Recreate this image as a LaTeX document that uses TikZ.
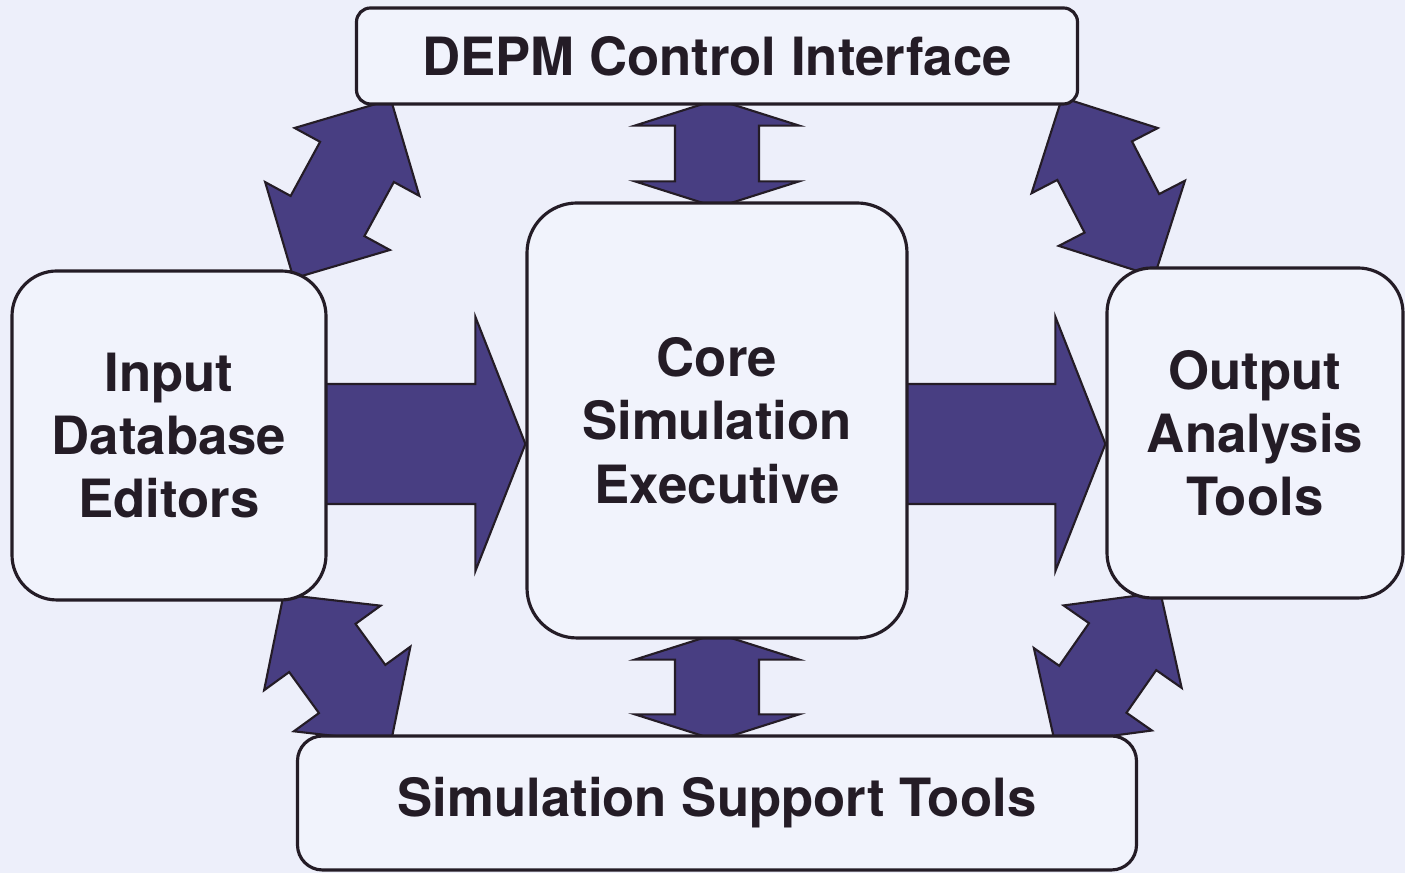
\documentclass[tikz,border=0pt]{standalone}
\usepackage{fontspec}
\setmainfont{TeX Gyre Heros}
\usetikzlibrary{calc}
\definecolor{bgblue}{RGB}{237,239,250}
\definecolor{boxfill}{RGB}{241,243,252}
\definecolor{arrblue}{RGB}{72,62,130}
\definecolor{inkdark}{RGB}{36,28,38}
\pgfdeclarelayer{back}
\pgfsetlayers{back,main}
\tikzstyle{stylebox} = [rectangle, rounded corners=0.45cm, inner sep=0pt, text centered, draw=inkdark, line width=0.9pt, fill=boxfill, text=inkdark, font=\fontsize{15}{18}\selectfont\bfseries]
\tikzstyle{stylebar} = [stylebox, rounded corners=0.14cm]
\tikzstyle{stylearrow} = [draw=inkdark, line width=0.6pt, fill=arrblue]

% block arrow with two heads: ends, half shaft, half head, head length
\newcommand{\dblarrow}[5]{%
\draw[stylearrow] (#1) -- ($(#1)!#5!(#2)!#4!90:(#2)$) -- ($(#1)!#5!(#2)!#3!90:(#2)$)
 -- ($(#2)!#5!(#1)!#3!-90:(#1)$) -- ($(#2)!#5!(#1)!#4!-90:(#1)$) -- (#2)
 -- ($(#2)!#5!(#1)!#4!90:(#1)$) -- ($(#2)!#5!(#1)!#3!90:(#1)$)
 -- ($(#1)!#5!(#2)!#3!-90:(#2)$) -- ($(#1)!#5!(#2)!#4!-90:(#2)$) -- cycle;}
% block arrow with one head
\newcommand{\blkarrow}[5]{%
\draw[stylearrow] ($(#1)!#3!90:(#2)$) -- ($(#2)!#5!(#1)!#3!-90:(#1)$) -- ($(#2)!#5!(#1)!#4!-90:(#1)$)
 -- (#2) -- ($(#2)!#5!(#1)!#4!90:(#1)$) -- ($(#2)!#5!(#1)!#3!90:(#1)$) -- ($(#1)!#3!-90:(#2)$) -- cycle;}

\begin{document}
\begin{tikzpicture}[node distance=3.6cm]
\useasboundingbox (0,0) rectangle (14.05,8.73);

\node (cse) [stylebox, rounded corners=0.5cm, minimum width=3.8cm, minimum height=4.35cm, text width=3.6cm] at (7.17,4.525) {Core\\Simulation\\Executive};
\node (ci) [stylebar, minimum width=7.21cm, minimum height=0.96cm, above of=cse, yshift=0.045cm] {DEPM Control Interface};
\node (ide) [stylebox, minimum width=3.14cm, minimum height=3.29cm, text width=3cm, left of=cse, xshift=-1.88cm, yshift=-0.15cm] {Input\\Database\\Editors};
\node (oat) [stylebox, minimum width=2.96cm, minimum height=3.3cm, text width=2.8cm, right of=cse, xshift=1.78cm, yshift=-0.125cm] {Output\\Analysis\\Tools};
\node (sst) [stylebar, rounded corners=0.25cm, minimum width=8.39cm, minimum height=1.34cm, below of=cse, yshift=-0.225cm] {Simulation Support Tools};

% arrow ends, tucked under the boxes
\coordinate (a1) at ([shift={(-0.34cm,-0.09cm)}]ide.north east);
\coordinate (a2) at ([shift={(0.36cm,0.06cm)}]ci.south west);
\coordinate (b1) at ([shift={(-0.17cm,0.08cm)}]ci.south east);
\coordinate (b2) at ([shift={(0.49cm,-0.10cm)}]oat.north west);
\coordinate (c1) at ([shift={(-0.44cm,0.07cm)}]ide.south east);
\coordinate (c2) at ([shift={(0.95cm,-0.08cm)}]sst.north west);
\coordinate (d1) at ([shift={(0.55cm,0.07cm)}]oat.south west);
\coordinate (d2) at ([shift={(-0.83cm,-0.09cm)}]sst.north east);
\coordinate (v1) at ([yshift=0.06cm]ci.south);
\coordinate (v2) at ([yshift=-0.06cm]cse.north);
\coordinate (v3) at ([yshift=0.06cm]cse.south);
\coordinate (v4) at ([yshift=-0.06cm]v3 |- sst.north);
\coordinate (h1) at ([shift={(-0.25cm,-0.085cm)}]ide.east);
\coordinate (h2) at ([yshift=-0.235cm]cse.west);
\coordinate (h3) at ([shift={(-0.25cm,-0.235cm)}]cse.east);
\coordinate (h4) at ([yshift=-0.11cm]oat.west);

\begin{pgfonlayer}{back}
\fill[bgblue] (0,0) rectangle (14.05,8.73);
\dblarrow{a1}{a2}{0.42cm}{0.71cm}{0.71cm}
\dblarrow{b1}{b2}{0.42cm}{0.71cm}{0.71cm}
\dblarrow{c1}{c2}{0.41cm}{0.72cm}{0.66cm}
\dblarrow{d1}{d2}{0.41cm}{0.72cm}{0.66cm}
\dblarrow{v1}{v2}{0.42cm}{0.82cm}{0.26cm}
\dblarrow{v3}{v4}{0.42cm}{0.82cm}{0.26cm}
\blkarrow{h1}{h2}{0.6cm}{1.27cm}{0.5cm}
\blkarrow{h3}{h4}{0.6cm}{1.27cm}{0.5cm}
\end{pgfonlayer}
\end{tikzpicture}
\end{document}
